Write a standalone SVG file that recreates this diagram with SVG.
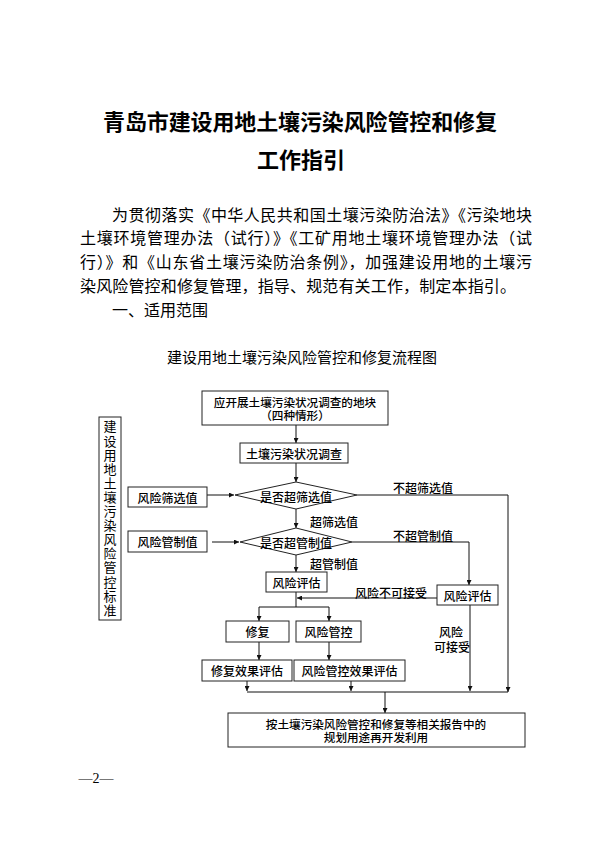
<svg xmlns="http://www.w3.org/2000/svg" width="595" height="841" viewBox="0 0 595 841">
<style>
text{font-family:"Noto Sans CJK SC","Noto Sans",sans-serif;fill:#000}
.title{font-size:22px;font-weight:bold;text-anchor:middle}
.body{font-size:16px}
.ct{font-size:15px;text-anchor:middle}
.n{font-size:12px;font-weight:500;text-anchor:middle;dominant-baseline:central}
.n2{font-family:"Liberation Sans","Noto Sans CJK SC",sans-serif;font-size:11.6px;font-weight:500;text-anchor:middle;dominant-baseline:central}
.lb{font-size:12px;font-weight:500;dominant-baseline:central}
.box{fill:#fff;stroke:#222;stroke-width:1}
.ln{fill:none;stroke:#111;stroke-width:1}
.pg{font-family:"Liberation Serif",serif;font-size:14px;text-anchor:middle}
</style>
<defs>
<marker id="ah" viewBox="0 0 6 6" refX="6" refY="3" markerWidth="5" markerHeight="5" orient="auto" markerUnits="userSpaceOnUse">
<path d="M0,0 L6,3 L0,6 Z" fill="#111"/>
</marker>
</defs>
<rect width="595" height="841" fill="#fff"/>

<g id="page-title">
<text class="title" x="300" y="130" textLength="394">青岛市建设用地土壤污染风险管控和修复</text>
<text class="title" x="301" y="168">工作指引</text>
</g>

<g id="body-text">
<text class="body" x="112" y="221" textLength="420" lengthAdjust="spacing">为贯彻落实《中华人民共和国土壤污染防治法》《污染地块</text>
<text class="body" x="80" y="244" textLength="452" lengthAdjust="spacing">土壤环境管理办法（试行）》《工矿用地土壤环境管理办法（试</text>
<text class="body" x="80" y="268" textLength="452" lengthAdjust="spacing">行）》和《山东省土壤污染防治条例》，加强建设用地的土壤污</text>
<text class="body" x="80" y="292" textLength="436" lengthAdjust="spacing">染风险管控和修复管理，指导、规范有关工作，制定本指引。</text>
<text class="body" x="112" y="316">一、适用范围</text>
</g>

<g id="chart-title">
<text class="ct" x="302" y="363" textLength="270" lengthAdjust="spacing">建设用地土壤污染风险管控和修复流程图</text>
</g>

<g id="connectors">
<line class="ln" x1="296" y1="425" x2="296" y2="443" marker-end="url(#ah)"/>
<line class="ln" x1="296" y1="463" x2="296" y2="482" marker-end="url(#ah)"/>
<line class="ln" x1="207" y1="495" x2="234" y2="495" marker-end="url(#ah)"/>
<polyline class="ln" points="357,495 508,495 508,692" marker-end="url(#ah)"/>
<line class="ln" x1="296" y1="509" x2="296" y2="528" marker-end="url(#ah)"/>
<line class="ln" x1="212" y1="542" x2="239" y2="542" marker-end="url(#ah)"/>
<polyline class="ln" points="352,542 469,542 469,585" marker-end="url(#ah)"/>
<line class="ln" x1="296" y1="555" x2="296" y2="572" marker-end="url(#ah)"/>
<line class="ln" x1="437" y1="598" x2="297" y2="598" marker-end="url(#ah)"/>
<line class="ln" x1="296" y1="592" x2="296" y2="607"/>
<line class="ln" x1="259" y1="607" x2="329" y2="607"/>
<line class="ln" x1="259" y1="607" x2="259" y2="621" marker-end="url(#ah)"/>
<line class="ln" x1="329" y1="607" x2="329" y2="621" marker-end="url(#ah)"/>
<line class="ln" x1="259" y1="642" x2="259" y2="660" marker-end="url(#ah)"/>
<line class="ln" x1="329" y1="642" x2="329" y2="660" marker-end="url(#ah)"/>
<line class="ln" x1="247" y1="681" x2="247" y2="691" marker-end="url(#ah)"/>
<line class="ln" x1="351" y1="681" x2="351" y2="691" marker-end="url(#ah)"/>
<line class="ln" x1="470" y1="605" x2="470" y2="691" marker-end="url(#ah)"/>
<line class="ln" x1="247" y1="692" x2="508" y2="692"/>
<line class="ln" x1="385" y1="692" x2="385" y2="713" marker-end="url(#ah)"/>
</g>

<g id="edge-labels">
<text class="lb" x="393" y="487">不超筛选值</text>
<text class="lb" x="310" y="521">超筛选值</text>
<text class="lb" x="393" y="535">不超管制值</text>
<text class="lb" x="310" y="563">超管制值</text>
<text class="lb" x="355" y="592">风险不可接受</text>
<text class="n2" x="451" y="633" style="font-size:12px">风险</text>
<text class="n2" x="452" y="648" style="font-size:12px">可接受</text>
</g>

<g id="node-standard">
<rect class="box" x="99" y="417" width="22" height="203"/>
<text style="font-size:13px;writing-mode:vertical-rl;letter-spacing:1.1px" x="110" y="420">建设用地土壤污染风险管控标准</text>
</g>

<g id="node-parcel">
<rect class="box" x="202" y="391" width="186" height="34"/>
<text class="n2" x="295" y="402">应开展土壤污染状况调查的地块</text>
<text class="n2" x="295" y="415.5">（四种情形）</text>
</g>

<g id="node-survey">
<rect class="box" x="240" y="443" width="108" height="20"/>
<text class="n" x="294" y="453">土壤污染状况调查</text>
</g>

<g id="node-screen-value">
<rect class="box" x="128" y="487" width="79" height="20"/>
<text class="n" x="167.5" y="497">风险筛选值</text>
</g>

<g id="node-decision-screen">
<polygon class="box" points="235,495 296,482 357,495 296,509"/>
<text class="n" x="296" y="496">是否超筛选值</text>
</g>

<g id="node-control-value">
<rect class="box" x="128" y="531" width="79" height="21"/>
<text class="n" x="167.5" y="541.5">风险管制值</text>
</g>

<g id="node-decision-control">
<polygon class="box" points="240,542 296,528 352,542 296,555"/>
<text class="n" x="296" y="542">是否超管制值</text>
</g>

<g id="node-assess-mid">
<rect class="box" x="266" y="572" width="61" height="20"/>
<text class="n" x="296.5" y="582">风险评估</text>
</g>

<g id="node-assess-right">
<rect class="box" x="437" y="585" width="61" height="20"/>
<text class="n" x="467.5" y="595">风险评估</text>
</g>

<g id="node-remediation">
<rect class="box" x="226" y="621" width="63" height="21"/>
<text class="n" x="257.5" y="631.5">修复</text>
</g>

<g id="node-control">
<rect class="box" x="296" y="621" width="65" height="21"/>
<text class="n" x="328.5" y="631.5">风险管控</text>
</g>

<g id="node-remediation-eval">
<rect class="box" x="202" y="660" width="90" height="21"/>
<text class="n" x="247" y="670.5">修复效果评估</text>
</g>

<g id="node-control-eval">
<rect class="box" x="294" y="660" width="111" height="21"/>
<text class="n" x="349.5" y="670.5">风险管控效果评估</text>
</g>

<g id="node-reuse">
<rect class="box" x="228" y="713" width="297" height="34"/>
<text class="n2" x="376" y="724">按土壤污染风险管控和修复等相关报告中的</text>
<text class="n2" x="376" y="737.5">规划用途再开发利用</text>
</g>

<g id="page-number">
<text class="pg" x="96" y="783">—2—</text>
</g>
</svg>
